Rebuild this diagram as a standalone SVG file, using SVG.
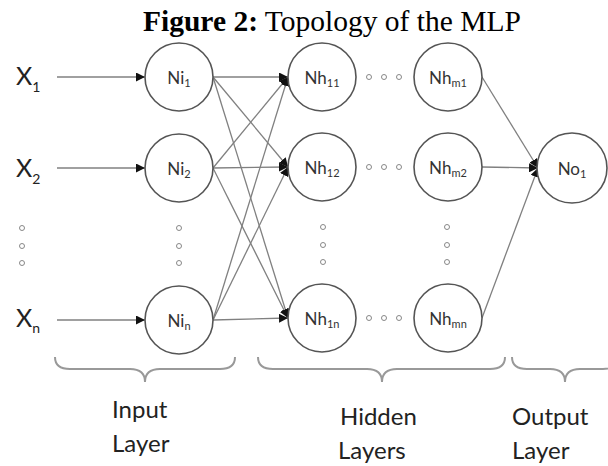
<svg xmlns="http://www.w3.org/2000/svg" width="608" height="466" viewBox="0 0 608 466">
<style>
.node circle{fill:#fff;stroke:#555;stroke-width:1.6}
.nt{font-family:Lato,"Open Sans",sans-serif;font-size:17px;fill:#333;text-anchor:middle}
.sub{font-size:11px}
.xs{font-size:14px}
.xl{font-family:Lato,"Open Sans",sans-serif;font-size:25px;fill:#222}
.lbl{font-family:Lato,"Open Sans",sans-serif;font-size:24px;fill:#222}
.conn line{stroke:#808080;stroke-width:1.3;fill:none}
.dot{fill:none;stroke:#888;stroke-width:1}
.brace{fill:none;stroke:#999;stroke-width:2}
</style>
<defs>
<marker id="ah" viewBox="0 0 10 10" refX="10" refY="5" markerWidth="9" markerHeight="9" markerUnits="userSpaceOnUse" orient="auto">
<path d="M0,0 L10,5 L0,10 z" fill="#111"/>
</marker>
</defs>
<rect width="608" height="466" fill="#fff"/>
<text x="143" y="31" font-family="'Liberation Serif',serif" font-size="29.5" fill="#000"><tspan font-weight="bold">Figure 2:</tspan> Topology of the MLP</text>

<g id="inputs">
<text class="xl" x="16" y="85">X<tspan class="xs" dy="7">1</tspan></text>
<text class="xl" x="16" y="177">X<tspan class="xs" dy="7">2</tspan></text>
<text class="xl" x="16" y="327">X<tspan class="xs" dy="6">n</tspan></text>
<circle class="dot" cx="22" cy="228" r="2.5"/><circle class="dot" cx="22" cy="246" r="2.5"/><circle class="dot" cx="22" cy="263" r="2.5"/>
</g>

<g id="connectors" class="conn">
<line x1="57" y1="77" x2="145" y2="77" marker-end="url(#ah)"/>
<line x1="57" y1="168" x2="145" y2="168" marker-end="url(#ah)"/>
<line x1="57" y1="320" x2="145" y2="320" marker-end="url(#ah)"/>
<line x1="213" y1="77" x2="288" y2="77" marker-end="url(#ah)"/>
<line x1="213" y1="77" x2="288" y2="167" marker-end="url(#ah)"/>
<line x1="213" y1="77" x2="288" y2="318" marker-end="url(#ah)"/>
<line x1="213" y1="168" x2="288" y2="77" marker-end="url(#ah)"/>
<line x1="213" y1="168" x2="288" y2="167" marker-end="url(#ah)"/>
<line x1="213" y1="168" x2="288" y2="318" marker-end="url(#ah)"/>
<line x1="213" y1="320" x2="288" y2="77" marker-end="url(#ah)"/>
<line x1="213" y1="320" x2="288" y2="167" marker-end="url(#ah)"/>
<line x1="213" y1="320" x2="288" y2="318" marker-end="url(#ah)"/>
<line x1="482" y1="77" x2="538" y2="168" marker-end="url(#ah)"/>
<line x1="482" y1="167" x2="538" y2="168" marker-end="url(#ah)"/>
<line x1="482" y1="318" x2="538" y2="168" marker-end="url(#ah)"/>
</g>

<g id="Ni1" class="node"><circle cx="179" cy="77" r="34"/><text class="nt" x="179" y="84">Ni<tspan class="sub" dy="3">1</tspan></text></g>
<g id="Ni2" class="node"><circle cx="179" cy="168" r="34"/><text class="nt" x="179" y="175">Ni<tspan class="sub" dy="3">2</tspan></text></g>
<g id="Nin" class="node"><circle cx="179" cy="320" r="34"/><text class="nt" x="179" y="327">Ni<tspan class="sub" dy="3">n</tspan></text></g>
<g id="in-dots"><circle class="dot" cx="179" cy="228" r="2.5"/><circle class="dot" cx="179" cy="246" r="2.5"/><circle class="dot" cx="179" cy="263" r="2.5"/></g>

<g id="Nh11" class="node"><circle cx="322" cy="77" r="34"/><text class="nt" x="322" y="84">Nh<tspan class="sub" dy="3">11</tspan></text></g>
<g id="Nh12" class="node"><circle cx="322" cy="167" r="34"/><text class="nt" x="322" y="174">Nh<tspan class="sub" dy="3">12</tspan></text></g>
<g id="Nh1n" class="node"><circle cx="322" cy="318" r="34"/><text class="nt" x="322" y="325">Nh<tspan class="sub" dy="3">1n</tspan></text></g>
<g id="Nhm1" class="node"><circle cx="448" cy="77" r="34"/><text class="nt" x="448" y="84">Nh<tspan class="sub" dy="3">m1</tspan></text></g>
<g id="Nhm2" class="node"><circle cx="448" cy="167" r="34"/><text class="nt" x="448" y="174">Nh<tspan class="sub" dy="3">m2</tspan></text></g>
<g id="Nhmn" class="node"><circle cx="448" cy="318" r="34"/><text class="nt" x="448" y="325">Nh<tspan class="sub" dy="3">mn</tspan></text></g>
<g id="No1" class="node"><circle cx="572" cy="168" r="35"/><text class="nt" x="572" y="175">No<tspan class="sub" dy="3">1</tspan></text></g>

<g id="hidden-dots">
<circle class="dot" cx="369" cy="77" r="2.5"/><circle class="dot" cx="384" cy="77" r="2.5"/><circle class="dot" cx="399" cy="77" r="2.5"/>
<circle class="dot" cx="369" cy="167" r="2.5"/><circle class="dot" cx="384" cy="167" r="2.5"/><circle class="dot" cx="399" cy="167" r="2.5"/>
<circle class="dot" cx="369" cy="318" r="2.5"/><circle class="dot" cx="384" cy="318" r="2.5"/><circle class="dot" cx="399" cy="318" r="2.5"/>
<circle class="dot" cx="323" cy="227" r="2.5"/><circle class="dot" cx="323" cy="245" r="2.5"/><circle class="dot" cx="323" cy="262" r="2.5"/>
<circle class="dot" cx="447" cy="227" r="2.5"/><circle class="dot" cx="447" cy="245" r="2.5"/><circle class="dot" cx="447" cy="262" r="2.5"/>
</g>

<g id="braces">
<path class="brace" d="M55,357 Q55,369 70,369 L130,369 Q145,369 145,382 Q145,369 160,369 L220,369 Q235,369 235,357"/>
<path class="brace" d="M258,357 Q258,369 273,369 L367,369 Q382,369 382,382 Q382,369 397,369 L490,369 Q505,369 505,357"/>
<path class="brace" d="M512,357 Q512,369 527,369 L550,369 Q565,369 565,382 Q565,369 580,369 L603,369 Q618,369 618,357"/>
</g>

<g id="labels">
<text class="lbl" x="112" y="418">Input</text>
<text class="lbl" x="112" y="452">Layer</text>
<text class="lbl" x="340" y="425">Hidden</text>
<text class="lbl" x="338" y="459">Layers</text>
<text class="lbl" x="512" y="425">Output</text>
<text class="lbl" x="512" y="459">Layer</text>
</g>
</svg>
